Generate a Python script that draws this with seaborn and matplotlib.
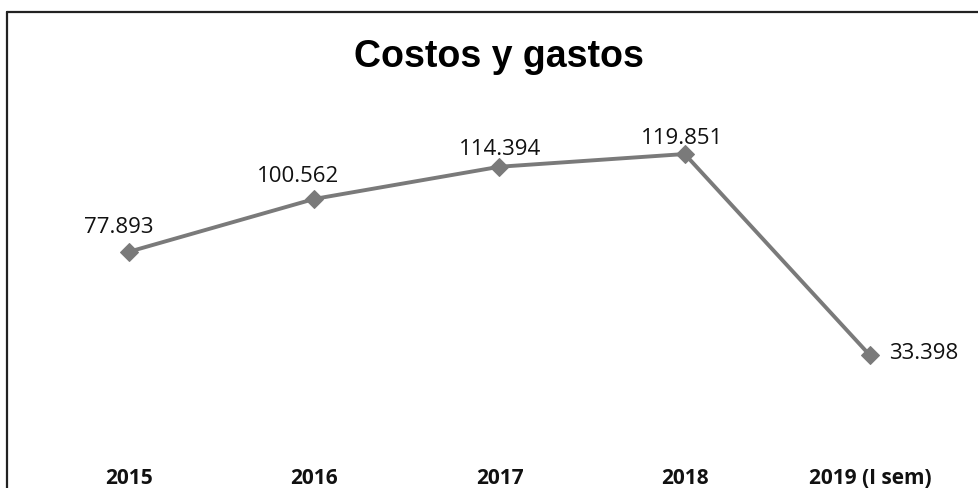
import matplotlib
matplotlib.use("Agg")
import matplotlib.pyplot as plt
from matplotlib.lines import Line2D
import seaborn as sns
import pandas as pd

# Annual costs and expenses
years = ["2015", "2016", "2017", "2018", "2019 (I sem)"]
values = [77.893, 100.562, 114.394, 119.851, 33.398]
value_labels = ["77.893", "100.562", "114.394", "119.851", "33.398"]

# label placement relative to each point (points)
label_offsets = [(-7.6, 13.2), (-11.9, 12.0), (0.5, 8.6), (-1.8, 7.2), (13.7, -2.6)]
label_align = ["center", "center", "center", "center", "left"]

sns.set_theme(style="white")
plt.rcParams["font.family"] = ["Open Sans", "DejaVu Sans"]

df = pd.DataFrame({"year": years, "value": values})

fig = plt.figure(figsize=(9.79, 4.88), dpi=100)
ax = fig.add_axes([0.0372, 0.1125, 0.946, 0.668])

line_color = "#7a7a7a"
sns.lineplot(data=df, x="year", y="value", sort=False, ax=ax,
             color=line_color, linewidth=2.8, marker="D", markersize=9,
             markeredgecolor=line_color, markerfacecolor=line_color)

for i, (lab, v) in enumerate(zip(value_labels, values)):
    ax.annotate(lab, xy=(i, v), xytext=label_offsets[i], textcoords="offset points",
                ha=label_align[i], va="baseline", fontsize=16, color="#111111")

ax.set_xlim(-0.5, len(years) - 0.5)
ax.set_ylim(0, 140)
ax.set_xlabel("")
ax.set_ylabel("")
ax.set_yticks([])
ax.tick_params(axis="x", length=0, pad=25)
for t in ax.get_xticklabels():
    t.set_fontweight("bold")
    t.set_fontsize(15)
    t.set_color("#111111")
for s in ax.spines.values():
    s.set_visible(False)

fig.text(0.51, (488 - 67) / 488, "Costos y gastos", ha="center", va="baseline",
         fontsize=27, fontweight="bold", family=["Liberation Sans", "DejaVu Sans"],
         color="#000000")

# chart frame
fig.add_artist(Line2D([0.00766, 0.00766], [0, 0.9764], transform=fig.transFigure,
                      color="#222222", linewidth=1.6))
fig.add_artist(Line2D([0.00766, 1.0], [0.9764, 0.9764], transform=fig.transFigure,
                      color="#222222", linewidth=1.6))

fig.savefig("out.png", dpi=100, facecolor="white")
